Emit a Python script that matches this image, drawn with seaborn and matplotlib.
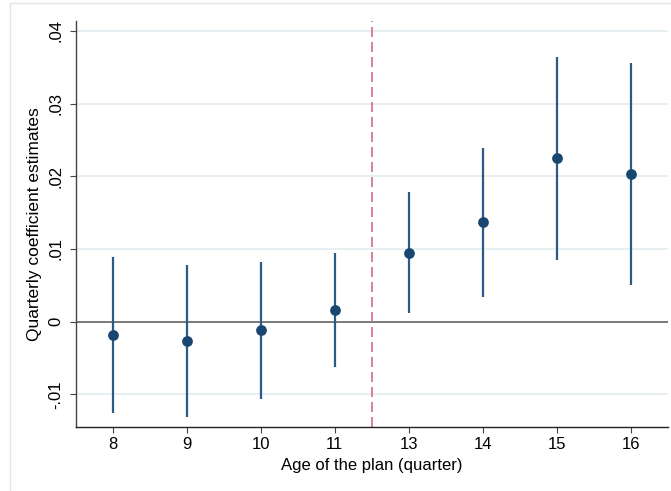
import numpy as np
import pandas as pd
import matplotlib
matplotlib.use("Agg")
import matplotlib.pyplot as plt
import seaborn as sns
from matplotlib.patches import Rectangle

# ---- data ----
quarters = ["8", "9", "10", "11", "13", "14", "15", "16"]
coef = [-0.00187, -0.00261, -0.00118, 0.00161, 0.00949, 0.01371, 0.02252, 0.02032]
ci_low = [-0.01252, -0.01307, -0.01059, -0.00619, 0.00120, 0.00340, 0.00853, 0.00509]
ci_high = [0.00886, 0.00780, 0.00821, 0.00945, 0.01784, 0.02389, 0.03641, 0.03558]
ytick_values = [-0.01, 0.0, 0.01, 0.02, 0.03, 0.04]
ytick_labels = ["-.01", "0", ".01", ".02", ".03", ".04"]
cutoff_between = ("11", "13")

df = pd.DataFrame({"quarter": quarters, "coef": coef, "lo": ci_low, "hi": ci_high})
df["pos"] = np.arange(len(df))

sns.set_theme(style="white")
plt.rcParams["font.family"] = ["Liberation Sans", "DejaVu Sans"]

W, H = 671, 491
fig = plt.figure(figsize=(W / 100, H / 100), dpi=100)
fig.patch.set_facecolor("white")
# outer graph-region frame (Stata style)
fig.patches.append(Rectangle((10 / W, -0.1), 1.2, 1 - 3 / H + 0.1,
                             transform=fig.transFigure, fill=False,
                             edgecolor="#dfe6ea", lw=1.0, zorder=0))

ax = fig.add_axes([76 / W, 1 - 427.3 / H, (667.5 - 76) / W, (427.3 - 20.7) / H])
ax.set_facecolor("white")

navy = "#1a476f"
line_navy = "#2a5a85"

# gridlines
for v in ytick_values:
    if v != 0:
        ax.axhline(v, color="#e8eff2", lw=1.4, zorder=0)
ax.axhline(0, color="#555555", lw=1.1, zorder=1)

# cutoff line
p0 = df.loc[df.quarter == cutoff_between[0], "pos"].iloc[0]
p1 = df.loc[df.quarter == cutoff_between[1], "pos"].iloc[0]
ax.axvline((p0 + p1) / 2, color="#d6698b", lw=1.2, ls=(0, (6, 3)), zorder=1)

# CIs and points
ax.vlines(df["pos"], df["lo"], df["hi"], color=line_navy, lw=1.6, zorder=2)
sns.scatterplot(data=df, x="pos", y="coef", ax=ax, color=navy, s=60,
                edgecolor=navy, linewidth=0, zorder=3, legend=False)

ax.set_xlim(-0.5, len(df) - 0.5)
ax.set_ylim(-0.01453, 0.0414)
ax.set_xticks(df["pos"])
ax.set_xticklabels(quarters)
ax.set_yticks(ytick_values)
ax.set_yticklabels(ytick_labels, rotation=90, va="center")

for s in ["top", "right"]:
    ax.spines[s].set_visible(False)
ax.spines["left"].set_color("#444444")
ax.spines["bottom"].set_color("#222222")
ax.spines["left"].set_linewidth(1.0)
ax.spines["bottom"].set_linewidth(1.0)
ax.tick_params(axis="both", which="major", length=4, width=0.8, color="#444444",
               labelsize=12, labelcolor="black", direction="out", pad=3,
               left=True, bottom=True)
ax.tick_params(axis="y", pad=5)

ax.set_xlabel("Age of the plan (quarter)", fontsize=12, color="black", labelpad=4)
ax.set_ylabel("Quarterly coefficient estimates", fontsize=12.5, color="black", labelpad=5)

fig.savefig("out.png", dpi=100, facecolor="white")
